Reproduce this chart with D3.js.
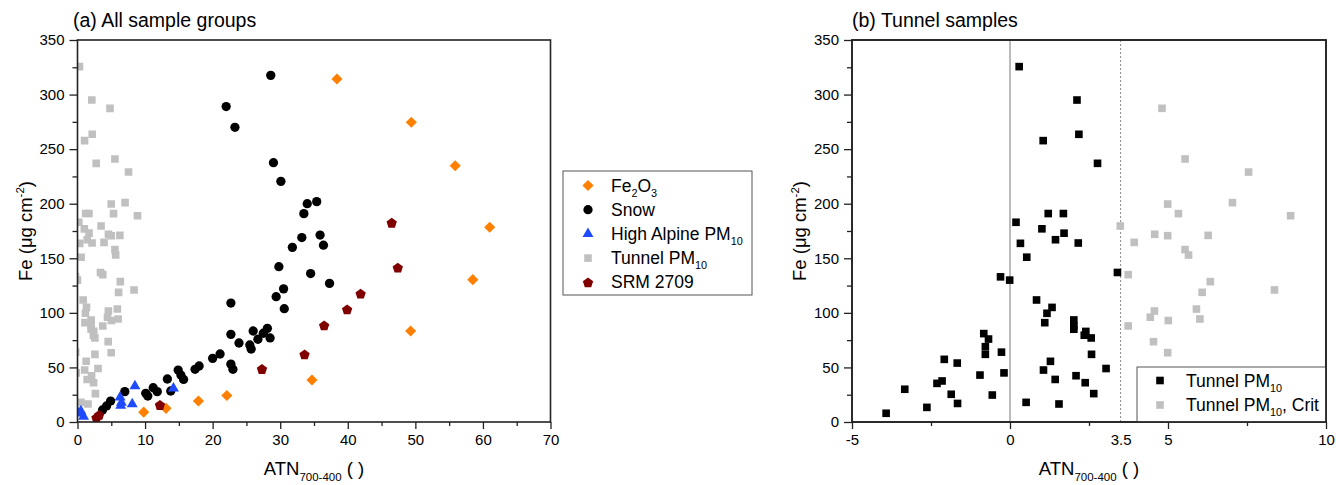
<!DOCTYPE html>
<html><head><meta charset="utf-8">
<script src="https://cdn.jsdelivr.net/npm/d3@7"></script>
<style>body{margin:0;background:#fff} svg{display:block;font-family:"Liberation Sans",Arial,sans-serif}</style>
</head><body><svg id="c" width="1336" height="485"></svg>
<script>
// ---------- data ----------
const yTicks = [0, 50, 100, 150, 200, 250, 300, 350];
const yMinor = [25, 75, 125, 175, 225, 275, 325];
const leftXTicks = [0, 10, 20, 30, 40, 50, 60, 70];
const leftXMinor = [5, 15, 25, 35, 45, 55, 65];
const rightXTicks = [-5, 0, 5, 10];
const rightXMinor = [-2.5, 2.5, 7.5];
const rightXLabels = [-5, 0, 3.5, 5, 10];

const fe2o3X = [9.8, 13.1, 17.9, 22.1, 34.7, 38.4, 49.4, 49.3, 55.9, 61.0, 58.5];
const fe2o3Y = [9, 12.5, 19.2, 24.3, 38.5, 314.3, 274.6, 83.4, 234.8, 178.4, 130.4];

const snowX = [3.7, 4.3, 4.9, 7.0, 10.1, 10.4, 11.2, 11.8, 13.3, 13.8, 14.9, 15.3, 15.7, 17.4, 18.0, 20.0, 21.1,
  22.7, 23.0, 23.9, 25.5, 25.7, 26.0, 26.7, 27.5, 28.1, 28.5, 22.7, 22.7, 29.4, 30.6, 30.5, 29.8, 34.5, 37.3,
  31.8, 33.2, 35.9, 36.4, 33.5, 34.0, 35.4, 30.1, 29.0, 22.0, 23.3, 28.6];
const snowY = [11, 14.7, 19.2, 27.8, 26.3, 23.8, 31.4, 27.8, 39.4, 28.4, 47.6, 43, 39, 48.3, 51.3, 58.3, 62.3,
  53, 48.3, 72.4, 70.6, 66.9, 83.4, 75.8, 81.3, 85.8, 77, 80.3, 109, 114.8, 103.8, 122, 142.3, 136, 127,
  160, 169, 171.3, 162, 190.9, 200, 201.9, 220.5, 237.6, 289, 270, 317.6];

const alpineX = [0.2, 0.5, 0.9, 6.3, 6.5, 6.4, 8.1, 8.5, 14.2];
const alpineY = [8, 10, 5, 22.6, 17.7, 15, 16.5, 33, 30.8];

const srmX = [2.8, 3.2, 12.2, 27.3, 33.6, 36.5, 39.9, 41.9, 46.5, 47.4];
const srmY = [4, 6.5, 15.6, 48.6, 62, 88.6, 103.2, 117.6, 182.6, 141.4];

const tunnelX = [-3.92, -3.33, -2.63, -2.08, -1.67, -2.31, -2.15, -1.86, -1.66, -0.95, -0.56, -0.83, -0.68, -0.78,
  -0.78, -0.30, -0.01, -0.27, -0.19, 0.29, 2.12, 2.18, 1.05, 2.77, 1.21, 1.69, 0.19, 1.01, 1.71, 1.44, 0.33, 2.16,
  0.53, 3.40, 0.84, 1.33, 1.17, 1.10, 2.02, 2.02, 2.02, 2.40, 2.35, 2.57, 2.58, 1.28, 1.06, 3.04, 1.43, 2.09,
  2.38, 2.65, 0.51, 1.55];
const tunnelY = [8, 30, 13.4, 57.4, 54, 35.4, 37.6, 25.4, 17, 43, 24.7, 81, 76, 69,
  62, 133, 130, 64, 45, 325.6, 295, 263.6, 257.8, 237, 191, 191, 183, 177, 173, 167, 163.7, 164,
  151, 137, 111.8, 105, 99.6, 91, 93.5, 88, 85, 83, 79.5, 77, 62, 55.6, 47.6, 49, 39, 42.4,
  36, 26, 18, 16.5];

const critX = [4.81, 5.54, 7.55, 4.99, 7.04, 5.33, 8.88, 3.49, 3.93, 4.58, 4.99, 6.27, 5.54, 5.65, 3.74, 6.34,
  6.08, 8.37, 4.57, 4.44, 5.01, 5.90, 6.01, 3.74, 4.54, 4.99];
const critY = [287.4, 241, 229, 199.7, 201, 190.9, 189, 179.6, 164.6, 172, 170.7, 171, 158, 153, 135, 128.6,
  118.8, 121, 101.7, 96, 93, 103.5, 94.4, 88, 73.6, 63.5];

// ---------- layout ----------
const pTop = 40, pBottom = 422;
const L = {x0: 77.5, x1: 550.5};
const R = {x0: 852, x1: 1326};
const svg = d3.select("#c");
const y = d3.scaleLinear().domain([0, 350]).range([pBottom, pTop]);
const xL = d3.scaleLinear().domain([0, 70]).range([L.x0, L.x1]);
const xR = d3.scaleLinear().domain([-5, 10]).range([R.x0, R.x1]);

const C = {orange: "#ff8000", black: "#000", blue: "#1f4bff", gray: "#c0c0c0", wine: "#800000"};

const diamond = {draw(ctx, size) { const r = Math.sqrt(size / 2); ctx.moveTo(0, -r); ctx.lineTo(r, 0); ctx.lineTo(0, r); ctx.lineTo(-r, 0); ctx.closePath(); }};
const pentagon = {draw(ctx, size) { const r = Math.sqrt(size / 2.378); for (let i = 0; i < 5; i++) { const a = -Math.PI / 2 + i * 2 * Math.PI / 5; const px = r * Math.cos(a), py = r * Math.sin(a) + r * 0.1; if (i === 0) ctx.moveTo(px, py); else ctx.lineTo(px, py); } ctx.closePath(); }};
const SYM = {
  diamond: d3.symbol().type(diamond).size(62),
  circle: d3.symbol().type(d3.symbolCircle).size(68),
  triangle: d3.symbol().type(d3.symbolTriangle).size(52),
  square: d3.symbol().type(d3.symbolSquare).size(58),
  pentagon: d3.symbol().type(pentagon).size(70)
};

// rich text helper: parts = [[text, mode]] mode: n / sub / sup
function rich(t, parts, fs) {
  let off = 0;
  parts.forEach(([s, m]) => {
    const target = m === "sub" ? fs * 0.3 : m === "sup" ? -fs * 0.4 : 0;
    t.append("tspan").attr("dy", target - off).attr("font-size", m === "n" ? fs : fs * 0.62).text(s);
    off = target;
  });
}

function defsClip(id, x0, x1) {
  svg.append("clipPath").attr("id", id).append("rect")
    .attr("x", x0).attr("y", pTop).attr("width", x1 - x0).attr("height", pBottom - pTop);
}
defsClip("clipL", L.x0, L.x1);
defsClip("clipR", R.x0, R.x1);

function points(g, xs, ys, x, sym, color) {
  g.selectAll(null).data(xs.map((v, i) => [v, ys[i]])).enter().append("path")
    .attr("d", sym).attr("fill", color)
    .attr("transform", d => `translate(${x(d[0])},${y(d[1])})`);
}

function axes(x, P, xMajor, xMinor, xLabels) {
  const fs = 15;
  const gy = svg.append("g").attr("transform", `translate(${P.x0},0)`);
  gy.call(d3.axisLeft(y).tickValues(yTicks).tickSize(8).tickPadding(5).tickFormat(d3.format("d")));
  const gym = svg.append("g").attr("transform", `translate(${P.x0},0)`);
  gym.call(d3.axisLeft(y).tickValues(yMinor).tickSize(5).tickFormat(""));
  const gx = svg.append("g").attr("transform", `translate(0,${pBottom})`);
  gx.call(d3.axisBottom(x).tickValues(xMajor).tickSize(7).tickFormat(""));
  const gxm = svg.append("g").attr("transform", `translate(0,${pBottom})`);
  gxm.call(d3.axisBottom(x).tickValues(xMinor).tickSize(4).tickFormat(""));
  const gxl = svg.append("g").attr("transform", `translate(0,${pBottom})`);
  gxl.call(d3.axisBottom(x).tickValues(xLabels).tickSize(0).tickPadding(12).tickFormat(d => String(d)));
  gxl.selectAll("line").remove();
  [gy, gym, gx, gxm, gxl].forEach(g => {
    g.select(".domain").remove();
    g.selectAll("line").attr("stroke", "#222").attr("stroke-width", 1.3);
    g.selectAll("text").attr("font-size", fs).attr("font-family", "Liberation Sans, Arial, sans-serif").attr("fill", "#000");
  });
  svg.append("rect").attr("x", P.x0).attr("y", pTop).attr("width", P.x1 - P.x0).attr("height", pBottom - pTop)
    .attr("fill", "none").attr("stroke", "#222").attr("stroke-width", 1.6);
  // axis titles
  const cx = (P.x0 + P.x1) / 2;
  const xt = svg.append("text").attr("x", cx).attr("y", 475).attr("text-anchor", "middle").attr("font-size", 18.5);
  rich(xt, [["ATN", "n"], ["700-400", "sub"], [" ( )", "n"]], 18.5);
  const yt = svg.append("text").attr("transform", `translate(${P.x0 - 46},${(pTop + pBottom) / 2}) rotate(-90)`)
    .attr("text-anchor", "middle").attr("font-size", 18.5);
  rich(yt, [["Fe (μg cm", "n"], ["-2", "sup"], [")", "n"]], 18.5);
}

// ---------- panel (a) ----------
const gA = svg.append("g").attr("clip-path", "url(#clipL)");
points(gA, tunnelX.concat(critX), tunnelY.concat(critY), xL, SYM.square, C.gray);
points(gA, fe2o3X, fe2o3Y, xL, SYM.diamond, C.orange);
points(gA, snowX, snowY, xL, SYM.circle, C.black);
points(gA, alpineX, alpineY, xL, SYM.triangle, C.blue);
points(gA, srmX, srmY, xL, SYM.pentagon, C.wine);
axes(xL, L, leftXTicks, leftXMinor, leftXTicks);
svg.append("text").attr("x", 73).attr("y", 27).attr("font-size", 19.5).text("(a) All sample groups");

// legend (a)
const legA = svg.append("g");
legA.append("rect").attr("x", 563).attr("y", 171).attr("width", 189).attr("height", 124)
  .attr("fill", "#fff").attr("stroke", "#555").attr("stroke-width", 1);
const legItems = [
  {sym: SYM.diamond, c: C.orange, parts: [["Fe", "n"], ["2", "sub"], ["O", "n"], ["3", "sub"]]},
  {sym: SYM.circle, c: C.black, parts: [["Snow", "n"]]},
  {sym: SYM.triangle, c: C.blue, parts: [["High Alpine PM", "n"], ["10", "sub"]]},
  {sym: SYM.square, c: C.gray, parts: [["Tunnel PM", "n"], ["10", "sub"]]},
  {sym: SYM.pentagon, c: C.wine, parts: [["SRM 2709", "n"]]}
];
legItems.forEach((it, i) => {
  const cy = 185.5 + i * 24.2;
  legA.append("path").attr("d", it.sym).attr("fill", it.c).attr("transform", `translate(588,${cy})`);
  const t = legA.append("text").attr("x", 611).attr("y", cy + 6).attr("font-size", 17.5);
  rich(t, it.parts, 17.5);
});

// ---------- panel (b) ----------
svg.append("line").attr("x1", xR(0)).attr("x2", xR(0)).attr("y1", pTop).attr("y2", pBottom)
  .attr("stroke", "#777").attr("stroke-width", 1);
svg.append("line").attr("x1", xR(3.5)).attr("x2", xR(3.5)).attr("y1", pTop).attr("y2", pBottom)
  .attr("stroke", "#888").attr("stroke-width", 1).attr("stroke-dasharray", "2,2");
const gB = svg.append("g").attr("clip-path", "url(#clipR)");
points(gB, critX, critY, xR, SYM.square, C.gray);
points(gB, tunnelX, tunnelY, xR, SYM.square, C.black);
axes(xR, R, rightXTicks, rightXMinor, rightXLabels);
svg.append("text").attr("x", 852).attr("y", 27).attr("font-size", 19.5).text("(b) Tunnel samples");

// legend (b)
const legB = svg.append("g");
legB.append("rect").attr("x", 1137).attr("y", 367).attr("width", 1326 - 1137).attr("height", pBottom - 367)
  .attr("fill", "#fff").attr("stroke", "#555").attr("stroke-width", 1);
[{c: C.black, parts: [["Tunnel PM", "n"], ["10", "sub"]]},
 {c: C.gray, parts: [["Tunnel PM", "n"], ["10", "sub"], [", Crit", "n"]]}].forEach((it, i) => {
  const cy = 380.5 + i * 24.5;
  legB.append("path").attr("d", SYM.square).attr("fill", it.c).attr("transform", `translate(1160,${cy})`);
  const t = legB.append("text").attr("x", 1186).attr("y", cy + 6).attr("font-size", 17.5);
  rich(t, it.parts, 17.5);
});
svg.append("rect").attr("x", R.x0).attr("y", pTop).attr("width", R.x1 - R.x0).attr("height", pBottom - pTop)
  .attr("fill", "none").attr("stroke", "#222").attr("stroke-width", 1.6);
</script></body></html>
